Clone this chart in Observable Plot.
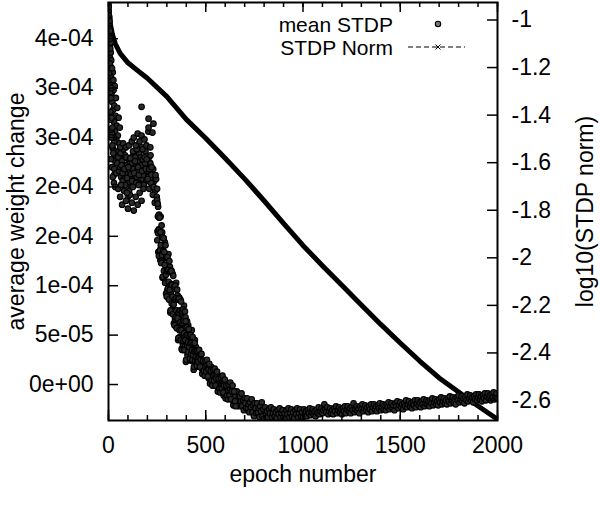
<!DOCTYPE html>
<html><head><meta charset="utf-8">
<script src="https://cdn.jsdelivr.net/npm/d3@7"></script>
<script src="https://cdn.jsdelivr.net/npm/@observablehq/plot@0.6"></script>
<style>body{margin:0;background:#fff} #chart{width:600px;height:519px}</style>
</head><body><div id="chart"></div>
<script>
// "mean STDP" values are written in units of 1e-5
const UNIT = 1e-5;
// early epochs: scattered cloud, [epoch, value]
const cloudPoints = [
[0,38.5],[1,37.8],[2,37.0],[2,36.2],[3,35.6],[4,36.5],[3,34.8],[5,34.0],[6,35.2],[7,33.5],
[8,34.4],[9,33.0],[10,32.2],[4,37.2],[6,36.0],[8,35.8],[11,34.6],[12,33.6],[13,31.8],[14,32.8],
[1,38.2],[0,37.4],[5,36.8],[7,35.0],[9,34.0],
[15,31.0],[16,29.5],[18,30.6],[20,28.6],[22,31.6],[24,27.8],[26,29.8],[28,26.6],[30,28.2],[32,30.2],
[34,25.6],[36,27.2],[38,29.0],[40,24.8],[42,26.2],[45,28.0],[48,25.2],[50,23.6],[52,27.0],[55,24.4],
[58,26.0],[60,22.8],[18,25.4],[25,23.8],[30,24.6],[35,22.6],[12,27.5],[14,25.8],[20,24.0],[8,29.6],
[10,26.8],[5,30.8],[22,22.0],[28,21.2],[6,32.5],[10,31.2],[14,30.0],[18,32.0],[25,30.8],[12,29.0],
[3,31.5],[8,27.6],[16,27.0],[20,26.0],[26,25.0],[32,23.2],
[15,25.0],[20,24.2],[25,23.4],[12,22.8],[18,22.0],[30,21.8],[22,21.0],[28,20.4],[35,20.0],[40,21.4],
[45,22.4],[50,23.0],[55,21.6],
[60,22.0],[65,21.0],[70,22.6],[75,21.8],[80,20.8],[85,23.2],[90,22.2],[95,21.4],[100,20.4],[105,22.8],
[110,21.6],[115,20.0],[120,22.4],[125,21.2],[130,23.4],[135,20.8],[140,22.0],[145,21.0],[150,23.0],[155,20.4],
[160,22.6],[165,21.6],[170,24.0],[175,20.8],[180,22.8],[185,21.4],[190,23.6],[195,20.6],[200,22.2],[205,21.0],
[210,19.8],[215,22.4],[220,21.2],[225,20.2],[230,21.8],[235,20.6],[240,19.6],[245,20.8],
[72,21.4],[88,21.9],[98,22.9],[108,21.0],[118,23.0],[128,21.8],[138,23.0],[148,21.6],[158,23.4],[168,22.2],
[178,21.2],[188,22.4],[198,21.6],[208,23.0],[218,20.4],[228,19.2],[238,18.4],[248,19.0],[255,18.0],[260,17.2],
[62,23.4],[67,22.2],[73,20.6],[77,23.8],[82,21.8],[86,20.2],[92,23.0],[96,20.9],[102,22.0],[106,19.6],
[112,22.9],[116,21.3],[122,20.6],[126,23.6],[132,21.4],[136,22.6],[142,20.4],[146,23.8],[152,22.0],[156,21.2],
[162,20.2],[166,23.0],[172,21.6],[176,22.8],[182,20.2],[186,23.0],[192,21.8],[196,22.8],[202,20.8],[210,21.8],
[216,23.2],[222,22.0],[232,20.0],[242,21.2],[250,19.8],[60,24.0],[75,24.4],[90,24.0],[105,24.2],[100,19.0],
[120,24.6],[130,25.0],[140,24.2],[150,25.4],[160,24.6],[170,25.2],[175,23.8],[185,24.8],[195,24.2],[205,25.6],[215,24.0],
[170,28.1],[206,26.9],[231,26.4],[206,26.0],[226,25.5],
[50,19.8],[60,19.0],[70,18.2],[80,19.6],[90,18.6],[100,17.8],[110,19.2],[120,18.4],[130,17.6],[140,19.0],
[150,18.2],[160,19.4],[170,18.6],[180,19.8],[65,20.2],[95,19.4],[125,20.0],[155,20.2]
];
// steep decay, even epochs 250..450
const steepStart = 250, steepStep = 2;
const steepValue = [
18.7,15.5,17.0,13.4,15.7,16.9,13.5,15.5,12.6,17.0,
13.8,15.2,12.6,15.4,10.8,13.6,12.8,14.8,10.8,13.2,
14.4,11.2,12.8,9.2,11.6,12.8,9.5,11.5,8.8,13.2,
10.1,11.6,9.0,11.9,7.3,10.2,9.4,11.5,7.5,10.0,
11.2,8.1,9.7,6.2,8.6,9.9,6.6,8.6,5.9,10.3,
7.2,8.7,6.2,9.0,4.5,7.4,6.7,8.8,4.8,7.3,
8.6,5.5,7.2,3.6,6.1,7.4,4.1,6.2,3.5,8.0,
4.9,6.4,3.9,6.8,2.3,5.2,4.5,6.4,3.0,5.2,
6.0,3.8,4.9,2.5,4.3,5.1,2.8,4.2,2.4,5.5,
3.3,4.4,2.5,4.6,1.5,3.5,2.9,4.5,1.8,3.5,
3.8];
// steep decay, odd epochs 251..449
const steepOddStart = 251, steepOddStep = 2;
const steepOddValue = [
14.6,18.3,15.3,17.1,13.0,15.6,16.9,13.6,15.4,14.1,
12.3,16.1,13.1,14.9,10.9,13.5,14.8,11.5,13.4,12.1,
10.3,14.1,11.1,12.9,8.9,11.5,12.9,9.7,11.6,10.4,
8.6,12.5,9.6,11.4,7.5,10.1,11.5,8.2,10.1,8.9,
7.1,11.0,8.1,9.9,6.0,8.6,10.0,6.8,8.7,7.5,
5.7,9.6,6.7,8.6,4.7,7.3,8.7,5.5,7.5,6.3,
4.5,8.4,5.5,7.4,3.5,6.2,7.6,4.4,6.4,5.2,
3.5,7.4,4.5,6.4,2.5,5.0,5.8,3.9,5.0,4.3,
3.3,5.6,3.8,4.9,2.6,4.2,5.0,3.1,4.2,3.5,
2.5,4.8,3.0,4.1,1.8,3.4,4.2,2.4,3.5,2.8];
// flattening, epochs 452..800 every 4
const bendStart = 452, bendStep = 4;
const bendValue = [
3.4,2.4,2.7,1.8,2.8,2.2,3.0,1.6,2.2,1.1,
2.3,1.7,1.2,2.1,1.1,1.4,0.6,1.6,1.0,1.8,
0.4,1.0,-0.1,1.1,0.5,0.1,1.0,0.0,0.4,-0.5,
0.5,-0.1,0.8,-0.6,0.0,-1.1,0.2,-0.4,-0.9,0.1,
-0.9,-0.6,-1.4,-0.4,-1.0,-0.1,-1.5,-0.8,-1.9,-0.7,
-1.2,-1.7,-0.7,-1.7,-1.4,-2.2,-1.2,-1.7,-0.9,-2.2,
-1.6,-2.6,-1.4,-1.9,-2.4,-1.4,-2.4,-2.0,-2.8,-1.8,
-2.3,-1.5,-2.8,-2.1,-3.2,-1.9,-2.4,-2.9,-1.9,-2.8,
-2.4,-3.3,-2.2,-2.7,-1.8,-3.2,-2.5,-3.5];
// flattening, epochs 454..654 every 4
const bendBStart = 454, bendBStep = 4;
const bendBValue = [
1.9,3.4,2.3,3.5,1.8,2.5,3.1,1.1,2.4,1.4,
0.9,2.4,1.3,2.5,0.8,1.5,2.1,0.1,1.4,0.4,
-0.1,1.5,0.4,1.6,-0.1,0.6,1.3,-0.7,0.6,-0.4,
-0.8,0.7,-0.4,0.9,-0.8,-0.1,0.5,-1.4,-0.1,-1.1,
-1.5,0.0,-1.1,0.2,-1.5,-0.7,-0.1,-2.1,-0.7,-1.7,
-2.2];
// slow tail, epochs 805..2000 every 5
const tailStart = 805, tailStep = 5;
const tailValue = [
-2.3,-3.0,-2.7,-3.3,-2.5,-2.9,-2.3,-3.3,-2.9,-2.5,
-3.2,-2.8,-3.4,-2.6,-3.0,-2.4,-3.3,-2.9,-2.6,-3.3,
-2.9,-3.4,-2.6,-3.0,-2.4,-3.3,-2.9,-2.5,-3.2,-2.8,
-3.4,-2.6,-3.0,-2.4,-3.3,-2.9,-2.5,-3.2,-2.8,-3.3,
-2.5,-3.0,-2.7,-3.2,-2.6,-2.9,-2.4,-3.1,-2.8,-2.5,
-3.0,-2.7,-3.2,-2.6,-2.9,-2.3,-3.0,-2.7,-2.4,-2.9,
-2.6,-2.0,-2.5,-2.8,-2.3,-3.0,-2.7,-2.4,-2.9,-2.6,
-3.0,-2.4,-2.7,-2.2,-2.9,-2.6,-2.3,-2.8,-2.5,-3.0,
-2.4,-2.7,-2.2,-2.9,-2.5,-2.2,-2.7,-2.4,-2.9,-2.3,
-2.6,-1.9,-2.8,-2.5,-2.2,-2.7,-2.4,-2.9,-2.2,-2.5,
-2.0,-2.7,-2.4,-2.1,-2.6,-2.3,-2.8,-2.2,-2.5,-2.0,
-2.7,-2.3,-2.0,-2.5,-2.2,-2.7,-2.1,-2.4,-1.9,-2.6,
-2.3,-2.0,-2.5,-2.1,-2.6,-2.0,-2.3,-1.8,-2.5,-2.2,
-1.9,-2.4,-2.1,-2.6,-1.9,-2.2,-1.7,-2.4,-2.1,-1.8,
-2.3,-2.0,-2.5,-1.9,-2.2,-1.6,-2.3,-2.0,-1.7,-2.2,
-1.9,-2.4,-1.8,-2.1,-1.6,-2.3,-1.9,-1.6,-2.1,-1.8,
-2.3,-1.7,-2.0,-1.5,-2.2,-1.9,-1.6,-2.0,-1.7,-2.2,
-1.6,-1.9,-1.4,-2.1,-1.8,-1.5,-2.0,-1.7,-2.1,-1.5,
-1.8,-1.3,-2.0,-1.7,-1.4,-1.9,-1.6,-2.0,-1.4,-1.7,
-1.2,-1.9,-1.6,-1.3,-1.8,-1.5,-2.0,-1.3,-1.6,-1.1,
-1.8,-1.5,-1.2,-1.7,-1.4,-1.9,-1.3,-1.6,-1.0,-1.7,
-1.4,-1.1,-1.6,-1.3,-1.8,-1.2,-1.5,-1.0,-1.6,-1.3,
-1.0,-1.5,-1.2,-1.7,-1.1,-1.4,-0.9,-1.6,-1.2,-0.9,
-1.4,-1.1,-1.6,-1.0,-1.3,-0.8,-1.5,-1.2,-0.9,-1.4];
// STDP Norm, log10 scale (right axis)
const normEpoch = [0,5,10,20,35,60,100,150,200,300,400,500,600,700,800,900,1000,1100,1200,1300,1400,1500,1600,1700,1800,1900,2000];
const normLog = [-0.926,-0.98,-1.02,-1.06,-1.10,-1.14,-1.18,-1.213,-1.245,-1.322,-1.418,-1.497,-1.581,-1.668,-1.760,-1.855,-1.948,-2.033,-2.115,-2.198,-2.280,-2.358,-2.434,-2.505,-2.564,-2.623,-2.679];

const xTicks = [0,500,1000,1500,2000];
const xMinorTicks = [0,100,200,300,400,500,600,700,800,900,1000,1100,1200,1300,1400,1500,1600,1700,1800,1900,2000];
const leftTicks = [0,5e-5,1e-4,1.5e-4,2e-4,2.5e-4,3e-4,3.5e-4];
const leftTickLabels = ["0e+00","5e-05","1e-04","2e-04","2e-04","3e-04","3e-04","4e-04"];
const rightTicks = [-1,-1.2,-1.4,-1.6,-1.8,-2,-2.2,-2.4,-2.6];
const rightTickLabels = ["-1","-1.2","-1.4","-1.6","-1.8","-2","-2.2","-2.4","-2.6"];
const legendLabels = ["mean STDP","STDP Norm"];
const titles = {x:"epoch number", y:"average weight change", y2:"log10(STDP norm)"};

const yDomain = [-3.64e-5, 3.866e-4];
const y2Domain = [-2.6841, -0.9264];
const toLeft = d3.scaleLinear().domain(y2Domain).range(yDomain);

const seg = (start, step, values) => values.map((v, i) => ({epoch: start + i * step, value: v * UNIT}));
const meanData = [
  ...cloudPoints.map(([e, v]) => ({epoch: e, value: v * UNIT})),
  ...seg(steepStart, steepStep, steepValue),
  ...seg(steepOddStart, steepOddStep, steepOddValue),
  ...seg(bendStart, bendStep, bendValue),
  ...seg(bendBStart, bendBStep, bendBValue),
  ...seg(tailStart, tailStep, tailValue)
];
const normData = normEpoch.map((e, i) => ({epoch: e, y: toLeft(normLog[i])}));

const W = 600, H = 519, mL = 108, mR = 103, mT = 2, mB = 99;
const plotW = W - mL - mR, plotH = H - mT - mB;
const font = "'Liberation Sans', Arial, Helvetica, sans-serif";
const FS = 23;
const DOT_FILL = "#2a2a2a";

const leftLabelOf = new Map(leftTicks.map((t, i) => [t, leftTickLabels[i]]));
const rightMapped = rightTicks.map(t => toLeft(t));
const rightLabelOf = new Map(rightMapped.map((t, i) => [t, rightTickLabels[i]]));

const chart = Plot.plot({
  width: W, height: H,
  marginLeft: mL, marginRight: mR, marginTop: mT, marginBottom: mB,
  style: {fontFamily: font, fontSize: FS + "px", color: "#000", background: "#fff"},
  x: {domain: [0, 2000]},
  y: {domain: yDomain},
  marks: [
    Plot.line(normData, {x: "epoch", y: "y", stroke: "#000", strokeWidth: 5, clip: true}),
    Plot.dot(meanData, {x: "epoch", y: "value", r: 2.8, stroke: "#000", strokeWidth: 1.1, fill: DOT_FILL, clip: true}),
    Plot.ruleX(xTicks, {insetTop: plotH - 10, stroke: "#000", strokeWidth: 1.5}),
    Plot.ruleX(xMinorTicks, {insetTop: plotH - 5, stroke: "#000", strokeWidth: 1.5}),
    Plot.ruleX(xTicks, {insetBottom: plotH - 10, stroke: "#000", strokeWidth: 1.5}),
    Plot.ruleX(xMinorTicks, {insetBottom: plotH - 5, stroke: "#000", strokeWidth: 1.5}),
    Plot.ruleY(leftTicks, {insetRight: plotW - 10, stroke: "#000", strokeWidth: 1.5}),
    Plot.ruleY(rightMapped, {insetLeft: plotW - 10, stroke: "#000", strokeWidth: 1.5}),
    Plot.frame({stroke: "#000", strokeWidth: 2}),
    Plot.axisX(xTicks, {anchor: "bottom", tickSize: 0, tickPadding: 16, label: null, fontSize: FS, tickFormat: d => String(d)}),
    Plot.axisY(leftTicks, {anchor: "left", tickSize: 0, tickPadding: 15, label: null, fontSize: FS, tickFormat: d => leftLabelOf.get(d)}),
    Plot.axisY(rightMapped, {anchor: "right", tickSize: 0, tickPadding: 14, label: null, fontSize: FS, tickFormat: d => rightLabelOf.get(d)}),
    Plot.text([titles.y], {frameAnchor: "left", textAnchor: "middle", dx: -92, rotate: -90, fontSize: FS}),
    Plot.text([titles.y2], {frameAnchor: "right", textAnchor: "middle", dx: 88, rotate: -90, fontSize: FS}),
    Plot.text([titles.x], {frameAnchor: "bottom", textAnchor: "middle", dy: 61, fontSize: FS})
  ]
});
document.getElementById("chart").appendChild(chart);

// legend (gnuplot style, top right inside the frame)
const svg = d3.select(chart);
const lg = svg.append("g").attr("font-family", font).attr("font-size", 21).attr("fill", "#000");
lg.append("text").attr("x", 393).attr("y", 32).attr("text-anchor", "end").text(legendLabels[0]);
lg.append("text").attr("x", 393).attr("y", 55).attr("text-anchor", "end").text(legendLabels[1]);
lg.append("circle").attr("cx", 438).attr("cy", 24).attr("r", 2.7).attr("fill", "#777").attr("stroke", "#000").attr("stroke-width", 1.1);
lg.append("line").attr("x1", 408).attr("x2", 465).attr("y1", 47).attr("y2", 47)
  .attr("stroke", "#000").attr("stroke-width", 1.2).attr("stroke-dasharray", "5,3");
lg.append("path").attr("d", "M435.5,44.5L440.5,49.5M435.5,49.5L440.5,44.5").attr("stroke", "#000").attr("stroke-width", 1);
</script>
</body></html>
